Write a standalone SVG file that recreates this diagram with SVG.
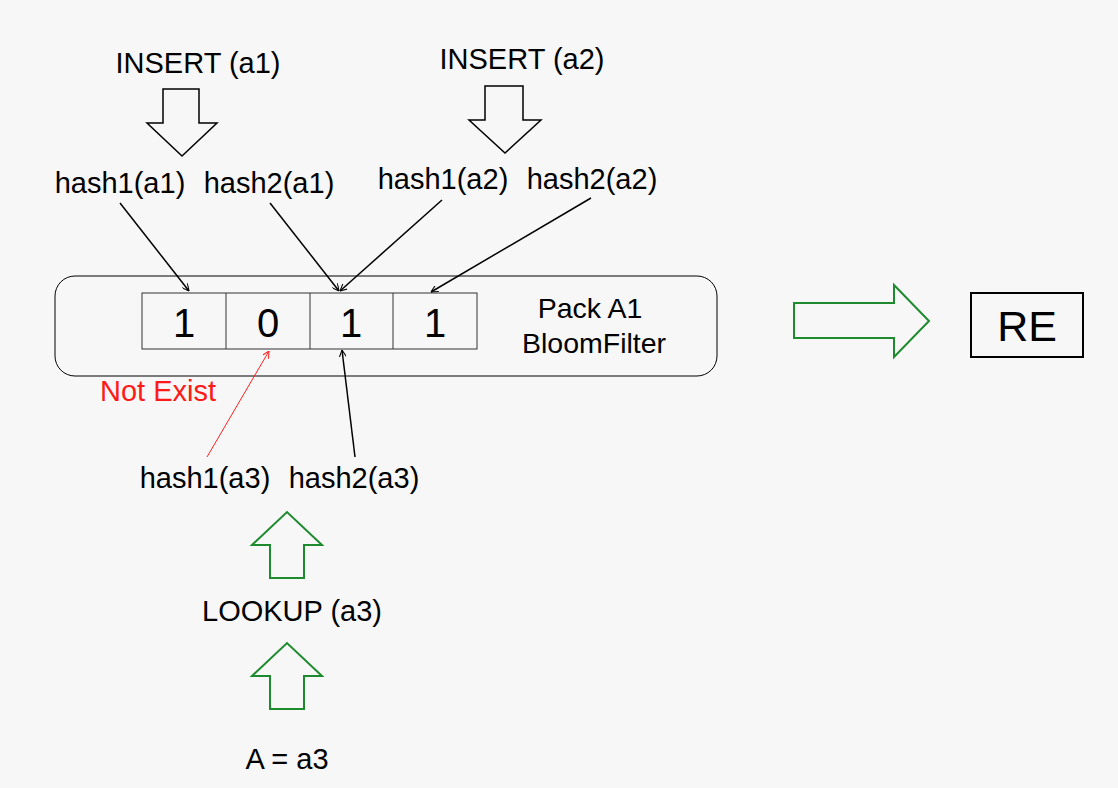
<svg xmlns="http://www.w3.org/2000/svg" width="1118" height="788" viewBox="0 0 1118 788">
<defs>
<style>
text{font-family:"Liberation Sans",Arial,sans-serif;fill:#000}
.t{font-size:29px}
.h{font-size:29px}
.p{font-size:28.5px}
.d{font-size:40px;text-anchor:middle}
.blk{fill:none;stroke:#000;stroke-width:1.5}
.gr{fill:none;stroke:#1e8a2e;stroke-width:2}
.ln{stroke:#000;stroke-width:1.5;fill:none;marker-end:url(#ah)}
.rl{stroke:#ff2020;stroke-width:1;fill:none;marker-end:url(#ahr)}
</style>
<marker id="ah" viewBox="0 0 10 10" refX="10" refY="5" markerWidth="7" markerHeight="7" orient="auto" markerUnits="userSpaceOnUse"><path d="M0,0 L10,5 L0,10" fill="none" stroke="#000" stroke-width="1.5"/></marker>
<marker id="ahr" viewBox="0 0 10 10" refX="10" refY="5" markerWidth="7" markerHeight="7" orient="auto" markerUnits="userSpaceOnUse"><path d="M0,0 L10,5 L0,10" fill="none" stroke="#ff2020" stroke-width="1.5"/></marker>
</defs>
<rect width="1118" height="788" fill="#f7f7f7"/>
<g id="insert1">
<text class="t" x="198" y="73" text-anchor="middle">INSERT (a1)</text>
<path class="blk" d="M163,89 H199 V123 H217 L182,156 L147,123 H163 Z"/>
</g>
<g id="insert2">
<text class="t" x="522" y="69" text-anchor="middle">INSERT (a2)</text>
<path class="blk" d="M485,86 H523 V120 H541 L505,153 L469,120 H485 Z"/>
</g>
<g id="hashes-a1">
<text class="h" x="120" y="193" text-anchor="middle">hash1(a1)</text>
<text class="h" x="269" y="193" text-anchor="middle">hash2(a1)</text>
</g>
<g id="hashes-a2">
<text class="h" x="443" y="189" text-anchor="middle">hash1(a2)</text>
<text class="h" x="592" y="189" text-anchor="middle">hash2(a2)</text>
</g>
<g id="pack">
<rect x="55" y="276" width="662" height="100" rx="20" ry="20" fill="none" stroke="#000" stroke-width="1"/>
<rect x="142" y="293" width="335" height="56" fill="none" stroke="#333" stroke-width="1"/>
<line x1="226" y1="293" x2="226" y2="349" stroke="#333"/>
<line x1="310" y1="293" x2="310" y2="349" stroke="#333"/>
<line x1="393" y1="293" x2="393" y2="349" stroke="#333"/>
<text class="d" x="184" y="337">1</text>
<text class="d" x="268" y="337">0</text>
<text class="d" x="351" y="337">1</text>
<text class="d" x="435" y="337">1</text>
<text class="p" x="590" y="318" text-anchor="middle">Pack A1</text>
<text class="p" x="594" y="353" text-anchor="middle">BloomFilter</text>
</g>
<g id="notexist">
<text class="h" x="100" y="401" style="fill:#ff1a1a">Not Exist</text>
</g>
<g id="hashes-a3">
<text class="h" x="205" y="488" text-anchor="middle">hash1(a3)</text>
<text class="h" x="354" y="488" text-anchor="middle">hash2(a3)</text>
</g>
<g id="lookup">
<path class="gr" d="M270,578 V545 H252 L287,512 L322,545 H304 V578 Z"/>
<text class="t" x="292" y="621" text-anchor="middle">LOOKUP (a3)</text>
</g>
<g id="input">
<path class="gr" d="M270,709 V676 H252 L287,643 L322,676 H304 V709 Z"/>
<text class="t" x="287" y="769" text-anchor="middle">A = a3</text>
</g>
<g id="to-re">
<path class="gr" d="M794,303 H894 V285 L929,321 L894,357 V338 H794 Z"/>
</g>
<g id="re">
<rect x="971" y="293" width="112" height="64" fill="none" stroke="#000" stroke-width="2"/>
<text x="1027" y="341" font-size="43" text-anchor="middle">RE</text>
</g>
<g id="connectors">
<line class="ln" x1="120" y1="203" x2="189" y2="291"/>
<line class="ln" x1="270" y1="203" x2="339" y2="291"/>
<line class="ln" x1="442" y1="200" x2="340" y2="291"/>
<line class="ln" x1="591" y1="198" x2="431" y2="292"/>
<line class="ln" x1="355" y1="457" x2="342" y2="350"/>
<line class="rl" x1="207" y1="457" x2="269" y2="351"/>
</g>
</svg>
